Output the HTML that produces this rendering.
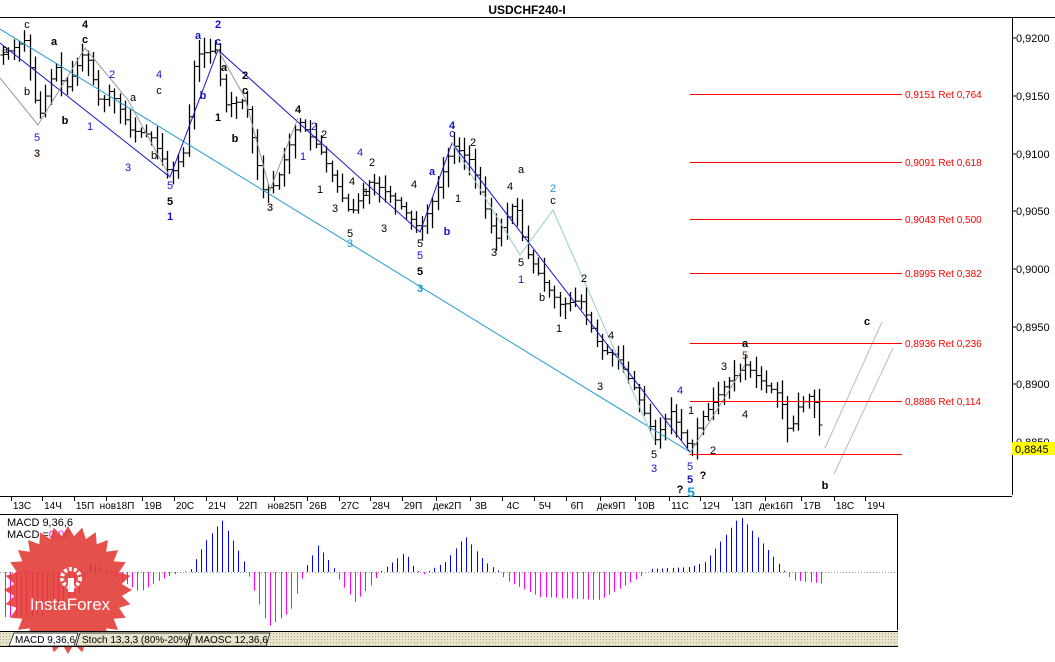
<!DOCTYPE html>
<html><head><meta charset="utf-8"><style>
body{margin:0;background:#fff;width:1055px;height:662px;overflow:hidden;font-family:"Liberation Sans",sans-serif}
svg{display:block}
</style></head><body>
<svg id="s" width="1055" height="662" xmlns="http://www.w3.org/2000/svg" font-family="Liberation Sans, sans-serif">
<rect width="1055" height="662" fill="#fff"/>
<text x="527" y="14" font-size="12" font-weight="bold" text-anchor="middle">USDCHF240-I</text>
<line x1="0" y1="17.5" x2="1055" y2="17.5" stroke="#000"/>
<line x1="1012.5" y1="17" x2="1012.5" y2="495" stroke="#000"/>
<line x1="0" y1="496.5" x2="1012" y2="496.5" stroke="#000"/>
<line x1="0" y1="514.5" x2="898" y2="514.5" stroke="#000"/>
<line x1="897.5" y1="514" x2="897.5" y2="630" stroke="#000"/>
<g id="bars"></g>
<g id="lines" fill="none">
<polyline points="0,29 690,452" stroke="#1a9cd0"/>
<polyline points="0,43 170,177 218,50 420,232 452,143 690,452" stroke="#1515d0"/>
<polyline points="0,78 38,125 85,48 128,100 170,177" stroke="#999"/>
<polyline points="218,50 245,98 270,190 298,118" stroke="#999"/>
<polyline points="452,143 520,255 553,210 655,442" stroke="#9cc"/>
<polyline points="690,453 745,365" stroke="#999"/>
<line x1="825" y1="448" x2="882" y2="322" stroke="#bbb"/>
<line x1="834" y1="474" x2="893" y2="348" stroke="#bbb"/>
</g>
<g stroke="#f00">
<line x1="690" y1="94.5" x2="902" y2="94.5"/>
<line x1="690" y1="162.5" x2="902" y2="162.5"/>
<line x1="690" y1="219.5" x2="902" y2="219.5"/>
<line x1="690" y1="273.5" x2="902" y2="273.5"/>
<line x1="690" y1="343.5" x2="902" y2="343.5"/>
<line x1="690" y1="401.5" x2="902" y2="401.5"/>
<line x1="690" y1="454.5" x2="902" y2="454.5"/>
</g>
<g fill="#f00" font-size="10">
<text x="905" y="98">0,9151 Ret 0,764</text>
<text x="905" y="166">0,9091 Ret 0,618</text>
<text x="905" y="223">0,9043 Ret 0,500</text>
<text x="905" y="277">0,8995 Ret 0,382</text>
<text x="905" y="347">0,8936 Ret 0,236</text>
<text x="905" y="405">0,8886 Ret 0,114</text>
</g>
<g font-size="11" fill="#000">
<text x="1016" y="42">0,9200</text><text x="1016" y="100">0,9150</text><text x="1016" y="158">0,9100</text>
<text x="1016" y="215">0,9050</text><text x="1016" y="273">0,9000</text><text x="1016" y="331">0,8950</text>
<text x="1016" y="388">0,8900</text><text x="1016" y="446">0,8850</text>
</g>
<g stroke="#000"><line x1="1012" y1="38" x2="1016" y2="38"/><line x1="1012" y1="96" x2="1016" y2="96"/><line x1="1012" y1="154" x2="1016" y2="154"/><line x1="1012" y1="211" x2="1016" y2="211"/><line x1="1012" y1="269" x2="1016" y2="269"/><line x1="1012" y1="327" x2="1016" y2="327"/><line x1="1012" y1="384" x2="1016" y2="384"/></g>
<rect x="1012" y="442" width="43" height="13" fill="#ff0"/>
<text x="1015" y="453" font-size="11">0,8845</text>
<g font-size="10" text-anchor="middle" fill="#000">
<text x="22" y="509">13С</text><text x="53" y="509">14Ч</text><text x="85" y="509">15П</text><text x="117" y="509">нов18П</text><text x="153" y="509">19В</text><text x="185" y="509">20С</text><text x="217" y="509">21Ч</text><text x="248" y="509">22П</text><text x="285" y="509">нов25П</text><text x="318" y="509">26В</text><text x="350" y="509">27С</text><text x="381" y="509">28Ч</text><text x="413" y="509">29П</text><text x="447" y="509">дек2П</text><text x="481" y="509">3В</text><text x="513" y="509">4С</text><text x="545" y="509">5Ч</text><text x="577" y="509">6П</text><text x="611" y="509">дек9П</text><text x="646" y="509">10В</text><text x="680" y="509">11С</text><text x="711" y="509">12Ч</text><text x="743" y="509">13П</text><text x="776" y="509">дек16П</text><text x="812" y="509">17В</text><text x="845" y="509">18С</text><text x="876" y="509">19Ч</text>
</g>
<g stroke="#000">
<line x1="11.5" y1="497" x2="11.5" y2="501"/><line x1="42.5" y1="497" x2="42.5" y2="501"/><line x1="74.5" y1="497" x2="74.5" y2="501"/><line x1="106.5" y1="497" x2="106.5" y2="501"/><line x1="142.5" y1="497" x2="142.5" y2="501"/><line x1="174.5" y1="497" x2="174.5" y2="501"/><line x1="206.5" y1="497" x2="206.5" y2="501"/><line x1="237.5" y1="497" x2="237.5" y2="501"/><line x1="274.5" y1="497" x2="274.5" y2="501"/><line x1="307.5" y1="497" x2="307.5" y2="501"/><line x1="339.5" y1="497" x2="339.5" y2="501"/><line x1="370.5" y1="497" x2="370.5" y2="501"/><line x1="402.5" y1="497" x2="402.5" y2="501"/><line x1="436.5" y1="497" x2="436.5" y2="501"/><line x1="470.5" y1="497" x2="470.5" y2="501"/><line x1="502.5" y1="497" x2="502.5" y2="501"/><line x1="534.5" y1="497" x2="534.5" y2="501"/><line x1="566.5" y1="497" x2="566.5" y2="501"/><line x1="600.5" y1="497" x2="600.5" y2="501"/><line x1="635.5" y1="497" x2="635.5" y2="501"/><line x1="669.5" y1="497" x2="669.5" y2="501"/><line x1="700.5" y1="497" x2="700.5" y2="501"/><line x1="732.5" y1="497" x2="732.5" y2="501"/><line x1="765.5" y1="497" x2="765.5" y2="501"/><line x1="801.5" y1="497" x2="801.5" y2="501"/><line x1="834.5" y1="497" x2="834.5" y2="501"/><line x1="865.5" y1="497" x2="865.5" y2="501"/>
</g>
<g font-size="11" font-weight="bold" text-anchor="middle">
<text x="5" y="53" fill="#000" font-weight="normal">a</text><text x="27" y="28" font-weight="normal">c</text><text x="85" y="28">4</text><text x="85" y="43">c</text><text x="54" y="45">a</text>
<text x="27" y="95" font-weight="normal">b</text><text x="65" y="124">b</text><text x="37" y="141" fill="#1515d0" font-weight="normal">5</text><text x="37" y="157" fill="#532">3</text>
<text x="90" y="130" fill="#1515d0" font-weight="normal">1</text><text x="112" y="78" fill="#1515d0" font-weight="normal">2</text><text x="133" y="101" font-weight="normal">a</text><text x="159" y="78" fill="#1515d0" font-weight="normal">4</text><text x="159" y="94" font-weight="normal">c</text>
<text x="128" y="171" fill="#1515d0" font-weight="normal">3</text><text x="154" y="159" font-weight="normal">b</text><text x="170" y="189" fill="#1515d0" font-weight="normal">5</text><text x="170" y="205">5</text><text x="170" y="220" fill="#1515d0">1</text>
<text x="198" y="39" fill="#1515d0">a</text><text x="218" y="28" fill="#1515d0">2</text><text x="218" y="45" fill="#1515d0">c</text><text x="203" y="99" fill="#1515d0">b</text><text x="224" y="71">a</text><text x="218" y="121">1</text>
<text x="245" y="79">2</text><text x="245" y="94">c</text><text x="235" y="142">b</text><text x="270" y="211" fill="#532">3</text><text x="298" y="113">4</text><text x="314" y="130" fill="#1515d0" font-weight="normal">2</text><text x="303" y="160" fill="#1515d0" font-weight="normal">1</text><text x="324" y="138" font-weight="normal">2</text><text x="320" y="193" font-weight="normal">1</text>
<text x="335" y="212" font-weight="normal">3</text><text x="352" y="185" font-weight="normal">4</text><text x="360" y="156" fill="#1515d0" font-weight="normal">4</text><text x="372" y="166" font-weight="normal">2</text><text x="366" y="196" font-weight="normal">1</text><text x="384" y="232" font-weight="normal">3</text>
<text x="350" y="237" font-weight="normal">5</text><text x="350" y="247" fill="#1a9cd0" font-weight="normal">3</text><text x="414" y="188" font-weight="normal">4</text><text x="432" y="175" fill="#1515d0">a</text><text x="447" y="235" fill="#1515d0">b</text>
<text x="420" y="247" font-weight="normal">5</text><text x="420" y="259" fill="#1515d0" font-weight="normal">5</text><text x="420" y="275">5</text><text x="420" y="292" fill="#1a9cd0">3</text>
<text x="452" y="129" fill="#1515d0">4</text><text x="452" y="137" fill="#1515d0" font-weight="normal">c</text><text x="473" y="146" font-weight="normal">2</text><text x="458" y="202" font-weight="normal">1</text><text x="494" y="256" font-weight="normal">3</text><text x="510" y="190" font-weight="normal">4</text><text x="521" y="173" font-weight="normal">a</text>
<text x="521" y="266" font-weight="normal">5</text><text x="521" y="283" fill="#1515d0" font-weight="normal">1</text><text x="553" y="192" fill="#1a9cd0" font-weight="normal">2</text><text x="553" y="204" font-weight="normal">c</text><text x="542" y="301" font-weight="normal">b</text>
<text x="584" y="282" font-weight="normal">2</text><text x="559" y="332" font-weight="normal">1</text><text x="611" y="339" font-weight="normal">4</text><text x="600" y="390" font-weight="normal">3</text>
<text x="654" y="458" font-weight="normal">5</text><text x="654" y="472" fill="#1515d0" font-weight="normal">3</text><text x="680" y="394" fill="#1515d0" font-weight="normal">4</text><text x="691" y="414" font-weight="normal">1</text>
<text x="690" y="470" fill="#1515d0" font-weight="normal">5</text><text x="690" y="483" fill="#1515d0">5</text><text x="691" y="497" fill="#1a9cd0" font-size="14">5</text><text x="680" y="493">?</text><text x="703" y="479">?</text>
<text x="713" y="454" font-weight="normal">2</text><text x="724" y="370" font-weight="normal">3</text><text x="745" y="347">a</text><text x="745" y="359" fill="#532" font-weight="normal">5</text><text x="745" y="418" font-weight="normal">4</text>
<text x="867" y="325">c</text><text x="825" y="489">b</text>
</g>
<line x1="0" y1="572.5" x2="897" y2="572.5" stroke="#999" stroke-dasharray="1,2"/>
<g id="macd"></g>
<text x="7" y="526" font-size="11">MACD 9,36,6</text>
<text x="7" y="538" font-size="11">MACD =<tspan fill="#f0f">0,00</tspan></text>
<g transform="translate(68,590)" opacity="0.88">
<polygon id="star" fill="#e23a32"/>
<text x="2" y="20" font-size="17" fill="#fff" text-anchor="middle">InstaForex</text>
<circle cx="3" cy="-12" r="9" fill="none" stroke="#fff" stroke-width="4" stroke-dasharray="3,2"/>
<rect x="0" y="-12" width="6" height="14" fill="#fff"/>
</g>
<defs><pattern id="h" width="3" height="3" patternUnits="userSpaceOnUse"><rect width="3" height="3" fill="#e8e4cc"/><rect width="1" height="1" fill="#b0ab90"/></pattern></defs>
<rect x="0" y="631" width="898" height="15" fill="url(#h)"/>
<line x1="0" y1="631.5" x2="898" y2="631.5" stroke="#000"/>
<polygon points="9,646 14,633 78,633 74,646" fill="#fff" stroke="#000" stroke-width=".7"/>
<polygon points="76,646 80,633 190,633 186,646" fill="#e8e4cc" stroke="#000" stroke-width=".7"/>
<polygon points="188,646 192,633 270,633 266,646" fill="#e8e4cc" stroke="#000" stroke-width=".7"/>
<g font-size="10"><text x="15" y="643">MACD 9,36,6</text><text x="82" y="643">Stoch 13,3,3 (80%-20%)</text><text x="195" y="643">MAOSC 12,36,6</text></g>
<line x1="0" y1="646.5" x2="898" y2="646.5" stroke="#000"/>
</svg>
<script>
var NS="http://www.w3.org/2000/svg";
function el(p,t,a){var e=document.createElementNS(NS,t);for(var k in a)e.setAttribute(k,a[k]);p.appendChild(e);return e;}
var pts=[[2,55],[25,40],[38,120],[55,65],[65,90],[85,50],[100,105],[110,90],[130,130],[150,135],[170,175],[185,150],[195,55],[215,50],[225,105],[245,100],[262,190],[275,185],[298,120],[320,150],[350,215],[370,180],[395,200],[420,230],[435,195],[452,145],[470,160],[495,240],[515,200],[525,250],[545,285],[560,305],[580,300],[600,350],[615,355],[635,390],[655,440],[670,410],[690,450],[700,420],[715,400],[725,385],[745,365],[765,385],[780,395],[790,440],[795,410],[810,395],[818,410],[822,460]];
function f(x){for(var i=1;i<pts.length;i++){if(x<=pts[i][0]){var a=pts[i-1],b=pts[i];return a[1]+(b[1]-a[1])*(x-a[0])/(b[0]-a[0]);}}return pts[pts.length-1][1];}
var seed=7;function r(){seed=(seed*9301+49297)%233280;return seed/233280;}
var g=document.getElementById("bars");var prev=f(2);
for(var x=3;x<=822;x+=5.3){var xx=Math.round(x)+.5;var c=f(x);var o=prev;var hi=Math.min(o,c)-2-r()*14,lo=Math.max(o,c)+2+r()*14;
el(g,"line",{x1:xx,y1:hi,x2:xx,y2:lo,stroke:"#000","stroke-width":1.3});
el(g,"line",{x1:xx-3,y1:o,x2:xx,y2:o,stroke:"#000"});el(g,"line",{x1:xx,y1:c,x2:xx+3,y2:c,stroke:"#000"});prev=c;}
var m=[[5,-45],[40,-45],[80,-20],[90,8],[100,6],[115,-5],[140,-20],[160,-8],[172,-3],[190,2],[205,30],[222,52],[243,12],[250,-8],[268,-55],[290,-40],[300,-12],[305,3],[318,27],[333,5],[340,-10],[355,-30],[372,-12],[380,0],[390,8],[405,20],[415,3],[425,-3],[430,2],[445,10],[465,36],[485,10],[500,0],[505,-8],[540,-25],[600,-28],[640,-5],[650,3],[690,5],[705,10],[740,56],[770,20],[785,0],[792,-8],[825,-12]];
function mf(x){for(var i=1;i<m.length;i++){if(x<=m[i][0]){var a=m[i-1],b=m[i];return a[1]+(b[1]-a[1])*(x-a[0])/(b[0]-a[0]);}}return 0;}
var mg=document.getElementById("macd");
for(var x=5;x<=825;x+=5.3){var v=mf(x);var xx=Math.round(x)+.5;el(mg,"line",{x1:xx,y1:572,x2:xx,y2:572-v,stroke:v>0?"#00f":"#f0f","stroke-width":1});}
var p=[];for(var i=0;i<56;i++){var a=i*Math.PI/28;var rr=i%2?54:64;p.push((Math.cos(a)*rr).toFixed(1)+","+(Math.sin(a)*rr).toFixed(1));}
document.getElementById("star").setAttribute("points",p.join(" "));
</script>
</body></html>
